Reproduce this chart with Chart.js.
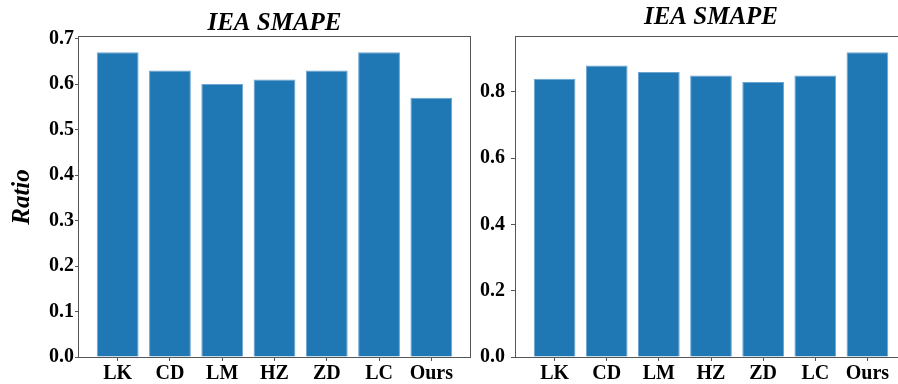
<!DOCTYPE html>
<html>
<head>
<meta charset="utf-8">
<script src="https://cdn.jsdelivr.net/npm/chart.js@4.4.1/dist/chart.umd.min.js"></script>
<style>
  html, body { margin: 0; padding: 0; background: #fff; overflow: hidden; width: 898px; height: 384px; }
  canvas { position: absolute; top: 0; }
  #left { left: 0; }
  #right { left: 480px; }
</style>
</head>
<body>
<canvas id="left" width="480" height="384"></canvas>
<canvas id="right" width="430" height="384"></canvas>
<script>
// Method names along the x axis
const categories = ['LK', 'CD', 'LM', 'HZ', 'ZD', 'LC', 'Ours'];
// Ratio per method, one array per panel
const leftValues = [0.67, 0.63, 0.60, 0.61, 0.63, 0.67, 0.57];
const rightValues = [0.84, 0.88, 0.86, 0.85, 0.83, 0.85, 0.92];
// Panel titles and y-axis label
const panelTitles = ['IEA SMAPE', 'IEA SMAPE'];
const yLabel = 'Ratio';
// Y tick spacing for each panel
const leftStep = 0.1;
const rightStep = 0.2;

const BAR = '#1f77b4';
const SPINE = '#555555';
const SERIF = '"Liberation Serif", "Times New Roman", serif';

// Box around the plotting area
const framePlugin = {
  id: 'frame',
  afterDraw(chart) {
    const a = chart.chartArea;
    const ctx = chart.ctx;
    ctx.save();
    ctx.strokeStyle = SPINE;
    ctx.lineWidth = 1;
    ctx.strokeRect(Math.round(a.left) - 0.5, Math.round(a.top) - 0.5,
                   Math.round(a.right - a.left) + 1, Math.round(a.bottom - a.top) + 1);
    ctx.restore();
  }
};

function makePanel(id, values, step, opts) {
  const n = categories.length;
  const pad = 0.05 * (n - 1 + 0.8);
  const yMax = Math.max(...values) * 1.05;
  return new Chart(document.getElementById(id), {
    type: 'bar',
    data: {
      datasets: [{
        data: values.map((v, i) => ({ x: i, y: v })),
        backgroundColor: BAR,
        borderColor: '#6ea4d1',
        borderWidth: 1,
        barPercentage: 0.8,
        categoryPercentage: 1.0
      }]
    },
    options: {
      responsive: false,
      animation: false,
      devicePixelRatio: 1,
      layout: { padding: { left: 0, right: opts.rightPad, top: 0, bottom: 0 } },
      plugins: {
        legend: { display: false },
        tooltip: { enabled: false },
        title: {
          display: true,
          text: opts.title,
          fullSize: false,
          color: '#000',
          font: { family: SERIF, size: 25, weight: 'bold', style: 'italic', lineHeight: 1 },
          padding: opts.titlePad
        }
      },
      scales: {
        x: {
          type: 'linear',
          offset: false,
          min: -0.4 - pad,
          max: n - 1 + 0.4 + pad,
          afterFit(scale) { scale.height = 27; },
          border: { display: false },
          grid: { offset: false, drawOnChartArea: false, drawTicks: true, tickLength: 4, color: SPINE },
          ticks: {
            stepSize: 1,
            includeBounds: false,
            autoSkip: false,
            maxRotation: 0,
            padding: 3,
            color: '#000',
            font: { family: SERIF, size: 20, weight: 'bold', lineHeight: 1 },
            callback: (v) => Number.isInteger(v) ? categories[v] : ''
          }
        },
        y: {
          type: 'linear',
          min: 0,
          max: yMax,
          afterFit(scale) { scale.width = opts.yWidth; },
          border: { display: false },
          grid: { drawOnChartArea: false, drawTicks: true, tickLength: opts.tickLen, color: SPINE },
          title: {
            display: opts.showYLabel,
            text: yLabel,
            color: '#000',
            font: { family: SERIF, size: 25, weight: 'bold', style: 'italic', lineHeight: 1 },
            padding: { top: 10, bottom: 0 }
          },
          ticks: {
            stepSize: step,
            includeBounds: false,
            autoSkip: false,
            padding: opts.tickPad,
            color: '#000',
            font: { family: SERIF, size: 20, weight: 'bold', lineHeight: 1 },
            callback: (v) => v.toFixed(1)
          }
        }
      }
    },
    plugins: [framePlugin]
  });
}

makePanel('left', leftValues, leftStep, {
  title: panelTitles[0], rightPad: 10, yWidth: 79, tickLen: 4, tickPad: 1,
  showYLabel: true, titlePad: { top: 11, bottom: 1 }
});
makePanel('right', rightValues, rightStep, {
  title: panelTitles[1], rightPad: 4, yWidth: 36, tickLen: 5, tickPad: 6,
  showYLabel: false, titlePad: { top: 5, bottom: 7 }
});
</script>
</body>
</html>
